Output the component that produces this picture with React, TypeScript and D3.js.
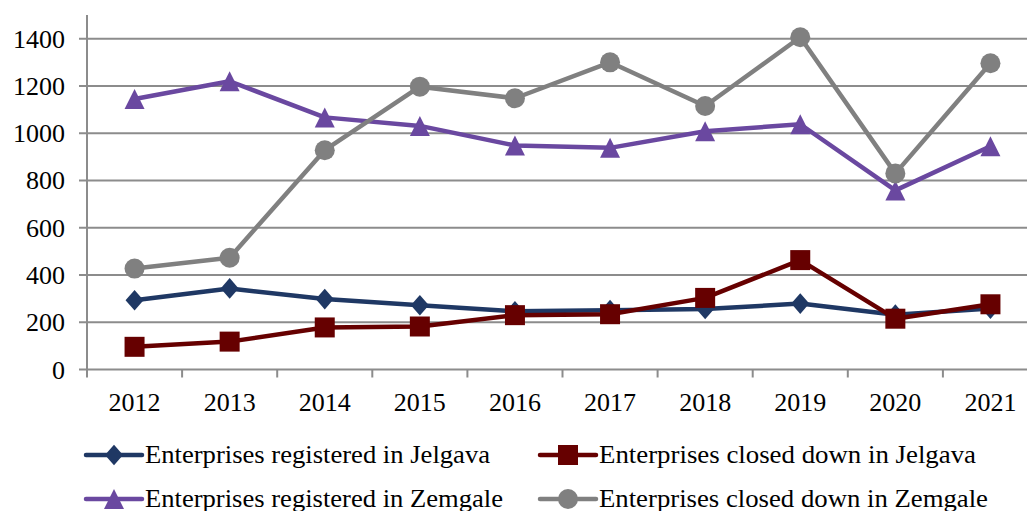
import * as d3 from "d3";
import React, { useEffect, useRef } from "react";

const years = ["2012", "2013", "2014", "2015", "2016", "2017", "2018", "2019", "2020", "2021"];
const regJelgava = [293, 343, 298, 272, 246, 251, 256, 279, 232, 258];
const closedJelgava = [96, 118, 178, 182, 230, 234, 303, 463, 215, 276];
const regZemgale = [1145, 1220, 1067, 1031, 948, 938, 1008, 1038, 758, 945];
const closedZemgale = [427, 473, 928, 1197, 1148, 1300, 1115, 1406, 830, 1296];
const yTicks = [0, 200, 400, 600, 800, 1000, 1200, 1400];

// custom marker shapes, size = half extent in px
const diamond = {
  draw(ctx: any, s: number) {
    ctx.moveTo(0, -s * 1.15);
    ctx.lineTo(s, 0);
    ctx.lineTo(0, s * 1.15);
    ctx.lineTo(-s, 0);
    ctx.closePath();
  },
};
const triangle = {
  draw(ctx: any, s: number) {
    ctx.moveTo(0, -s);
    ctx.lineTo(s, s);
    ctx.lineTo(-s, s);
    ctx.closePath();
  },
};
const square = {
  draw(ctx: any, s: number) {
    ctx.rect(-s, -s, 2 * s, 2 * s);
  },
};
const circle = {
  draw(ctx: any, s: number) {
    ctx.moveTo(s, 0);
    ctx.arc(0, 0, s, 0, 2 * Math.PI);
  },
};

const series = [
  { name: "Enterprises registered in Jelgava", values: regJelgava, color: "#1f3864", symbol: diamond, size: 9 },
  { name: "Enterprises closed down in Jelgava", values: closedJelgava, color: "#660000", symbol: square, size: 10 },
  { name: "Enterprises registered in Zemgale", values: regZemgale, color: "#6a48a0", symbol: triangle, size: 10 },
  { name: "Enterprises closed down in Zemgale", values: closedZemgale, color: "#808080", symbol: circle, size: 10 },
];

const W = 1027;
const H = 511;
const FONT = "'Liberation Serif', 'Times New Roman', serif";

export default function App() {
  const ref = useRef<SVGSVGElement>(null);

  useEffect(() => {
    document.body.style.margin = "0";
    const svg = d3.select(ref.current);
    svg.selectAll("*").remove();

    const left = 87;
    const x = d3.scaleBand<string>().domain(years).range([left, left + 951]);
    const y = d3.scaleLinear().domain([0, 1400]).range([369.5, 38.7]);
    const cx = (yr: string) => (x(yr) as number) + x.bandwidth() / 2;

    // gridlines
    svg
      .append("g")
      .selectAll("line")
      .data(yTicks)
      .join("line")
      .attr("x1", left - 8)
      .attr("x2", W)
      .attr("y1", (d) => y(d))
      .attr("y2", (d) => y(d))
      .attr("stroke", "#8c8c8c")
      .attr("stroke-width", 2);

    // y axis line
    svg
      .append("line")
      .attr("x1", left)
      .attr("x2", left)
      .attr("y1", 15)
      .attr("y2", y(0) + 8)
      .attr("stroke", "#8c8c8c")
      .attr("stroke-width", 2);

    // x tick marks at band boundaries
    svg
      .append("g")
      .selectAll("line")
      .data(years.slice(1))
      .join("line")
      .attr("x1", (d) => x(d) as number)
      .attr("x2", (d) => x(d) as number)
      .attr("y1", y(0))
      .attr("y2", y(0) + 8)
      .attr("stroke", "#8c8c8c")
      .attr("stroke-width", 2);

    // y labels
    svg
      .append("g")
      .selectAll("text")
      .data(yTicks)
      .join("text")
      .attr("x", 65)
      .attr("y", (d) => y(d) + 9)
      .attr("text-anchor", "end")
      .attr("font-family", FONT)
      .attr("font-size", 26)
      .attr("fill", "#000")
      .text((d) => d);

    // x labels
    svg
      .append("g")
      .selectAll("text")
      .data(years)
      .join("text")
      .attr("x", (d) => cx(d))
      .attr("y", 411)
      .attr("text-anchor", "middle")
      .attr("font-family", FONT)
      .attr("font-size", 26)
      .attr("fill", "#000")
      .text((d) => d);

    const line = d3
      .line<number>()
      .x((_, i) => cx(years[i]))
      .y((d) => y(d));

    series.forEach((s) => {
      svg
        .append("path")
        .attr("d", line(s.values))
        .attr("fill", "none")
        .attr("stroke", s.color)
        .attr("stroke-width", 4.5)
        .attr("stroke-linejoin", "round");
      svg
        .append("g")
        .selectAll("path")
        .data(s.values)
        .join("path")
        .attr("d", d3.symbol().type(s.symbol).size(s.size)())
        .attr("transform", (d, i) => `translate(${cx(years[i])},${y(d)})`)
        .attr("fill", s.color);
    });

    // legend
    const legendPos = [
      { x: 86, y: 455, w: 345 },
      { x: 540, y: 455, w: 377 },
      { x: 86, y: 499, w: 358 },
      { x: 540, y: 499, w: 389 },
    ];
    series.forEach((s, i) => {
      const p = legendPos[i];
      const g = svg.append("g").attr("transform", `translate(${p.x},${p.y})`);
      g.append("line")
        .attr("x1", 0)
        .attr("x2", 56)
        .attr("stroke", s.color)
        .attr("stroke-width", 4.5)
        .attr("stroke-linecap", "round");
      g.append("path")
        .attr("d", d3.symbol().type(s.symbol).size(s.size)())
        .attr("transform", "translate(28,0)")
        .attr("fill", s.color);
      g.append("text")
        .attr("x", 59)
        .attr("y", 8)
        .attr("font-family", FONT)
        .attr("font-size", 25)
        .attr("textLength", p.w)
        .attr("lengthAdjust", "spacingAndGlyphs")
        .attr("fill", "#000")
        .text(s.name);
    });
  }, []);

  return (
    <div style={{ position: "absolute", left: 0, top: 0 }}>
      <svg ref={ref} width={W} height={H} style={{ display: "block", background: "#fff" }} />
    </div>
  );
}
